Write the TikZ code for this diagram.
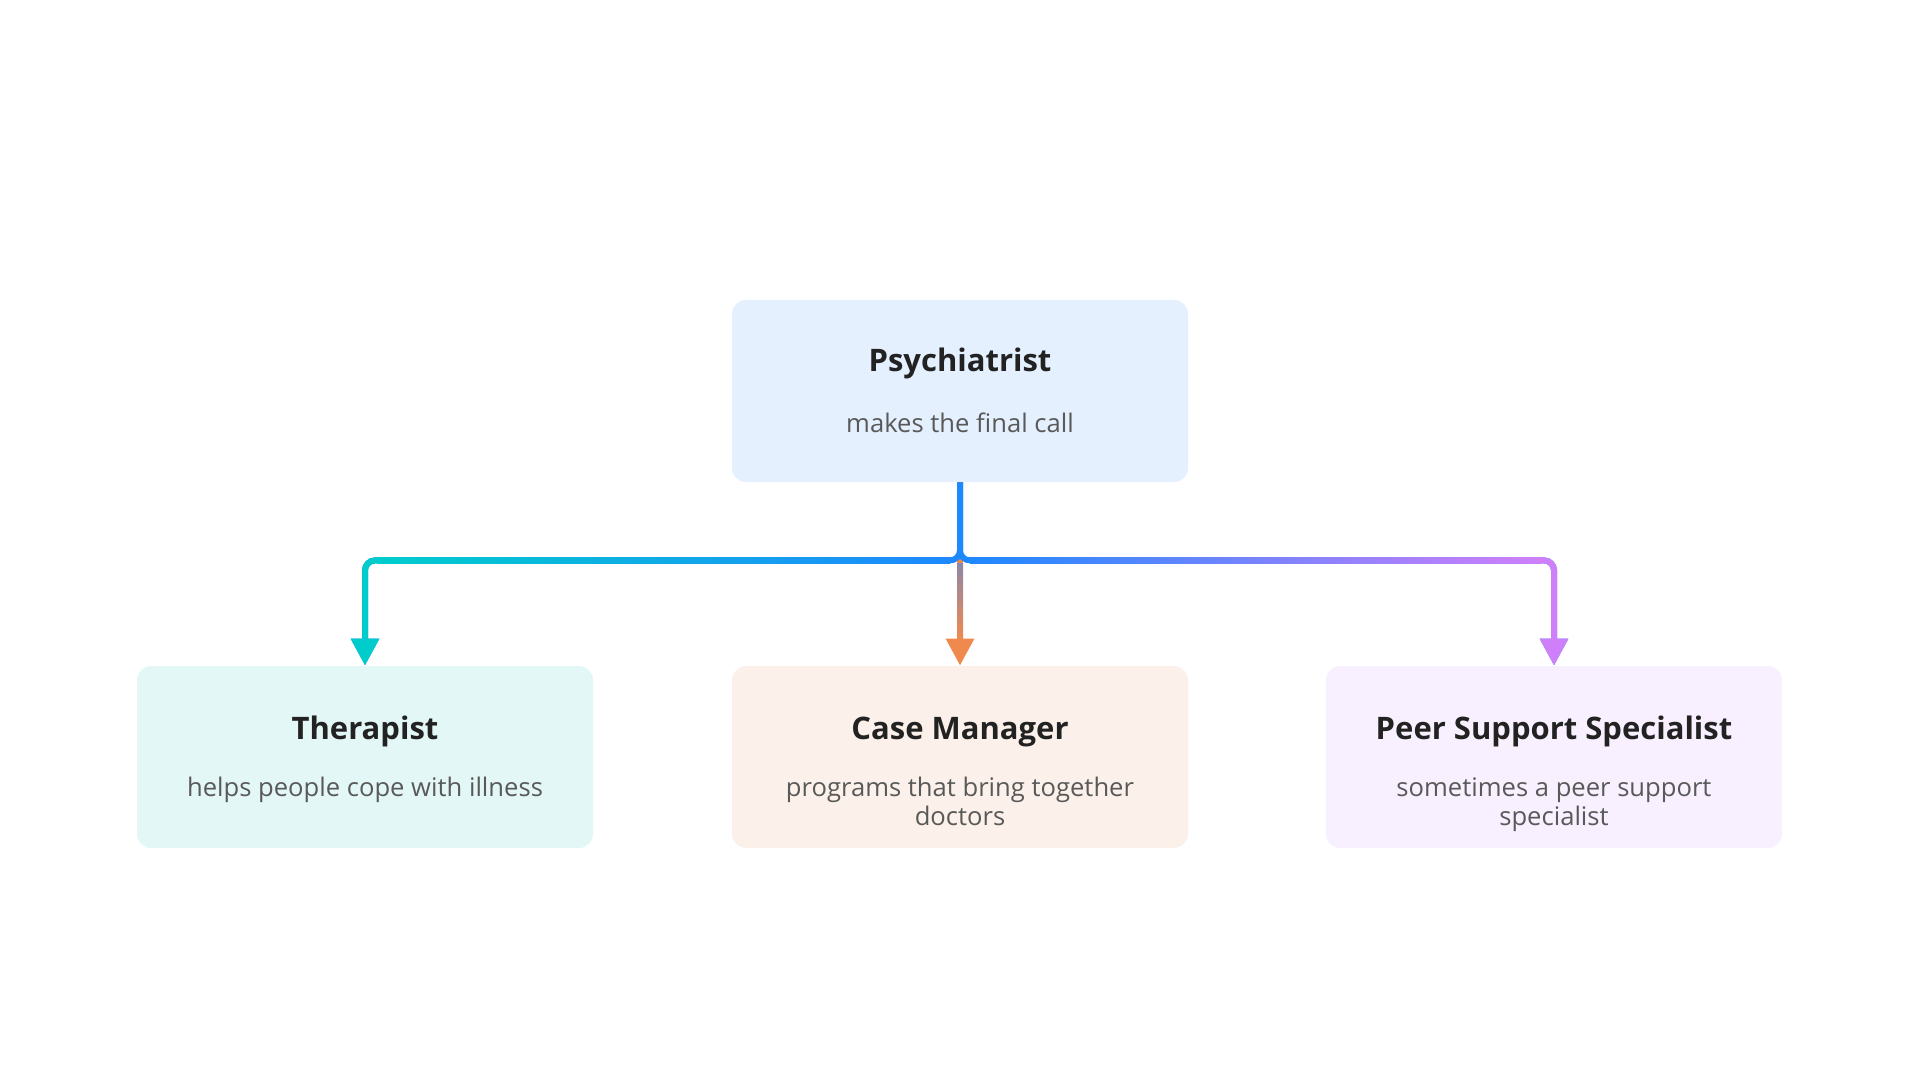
\documentclass[tikz,border=0pt]{standalone}
\usepackage{fontspec}
\setmainfont{Open Sans}
\usepackage{xcolor}
\usepackage{tikz}
\usetikzlibrary{calc, arrows.meta}

\definecolor{psyfill}{HTML}{E4F0FD}
\definecolor{therfill}{HTML}{E3F7F6}
\definecolor{casefill}{HTML}{FBF1EA}
\definecolor{peerfill}{HTML}{F8F0FE}
\definecolor{titlegray}{HTML}{222222}
\definecolor{subgray}{HTML}{595959}
\definecolor{blueline}{HTML}{1E88FF}
\definecolor{cyanline}{HTML}{00CCCC}
\definecolor{violetline}{HTML}{D07FFA}
\definecolor{orangeline}{HTML}{F0894E}
\definecolor{midtop}{HTML}{8C88A8}

\begin{document}
\begin{tikzpicture}[x=0.5pt, y=-0.5pt, >={Triangle[width=13.5pt, length=13.5pt]},
  card/.style={rectangle, rounded corners=7pt, minimum width=228pt, minimum height=91pt, inner sep=0pt},
  role/.style={font=\fontsize{15.5}{18}\selectfont\bfseries, text=titlegray, inner sep=0pt, anchor=base},
  duty/.style={font=\fontsize{12.8}{14.5}\selectfont, text=subgray, inner sep=0pt, anchor=base, align=center},
  link/.style={line width=3pt, rounded corners=5pt}]
 \useasboundingbox (0,0) rectangle (1920,1080);

 % cards
 \node (psy) [card, fill=psyfill] at (960,391) {};
 \node (ther) [card, fill=therfill] at (365,757) {};
 \node (case) [card, fill=casefill] at (960,757) {};
 \node (peer) [card, fill=peerfill] at (1554,757) {};

 % texts (base of a two-line node is its last line)
 \node (psyT) [role] at ($(psy.north)+(0,72)$) {Psychiatrist};
 \node (psyS) [duty] at ($(psyT.base)+(0,61)$) {makes the final call};
 \node (therT) [role] at ($(ther.north)+(0,74)$) {Therapist};
 \node (therS) [duty] at ($(therT.base)+(0,57)$) {helps people cope with illness};
 \node (caseT) [role] at ($(case.north)+(0,74)$) {Case Manager};
 \node (caseS) [duty] at ($(caseT.base)+(0,86)$) {programs that bring together\\doctors};
 \node (peerT) [role] at ($(peer.north)+(0,74)$) {Peer Support Specialist};
 \node (peerS) [duty] at ($(peerT.base)+(0,86)$) {sometimes a peer support\\specialist};

 \coordinate (hub) at ($(psy.south)+(0,78)$);

 % middle
 \draw[->, link, orangeline] (psy.south) -- (case.north);
 % branches
 \draw[->, link, blueline] (psy.south) -- (hub) -| (ther.north);
 \draw[->, link, blueline] (psy.south) -- (hub) -| (peer.north);
 \draw[->, link, cyanline] ($(ther.north |- hub)+(14,0)$) -| (ther.north);
 \draw[->, link, violetline] ($(peer.north |- hub)+(-14,0)$) -| (peer.north);
 \shade[left color=cyanline, right color=blueline] ($(ther.north |- hub)+(12,-3)$) rectangle ($(hub)+(-10,3)$);
 \shade[left color=blueline, right color=violetline] ($(hub)+(10,-3)$) rectangle ($(peer.north |- hub)+(-12,3)$);
 \shade[top color=midtop, bottom color=orangeline] ($(hub)+(-3,3)$) rectangle ($(case.north)+(3,-27)$);
\end{tikzpicture}
\end{document}
